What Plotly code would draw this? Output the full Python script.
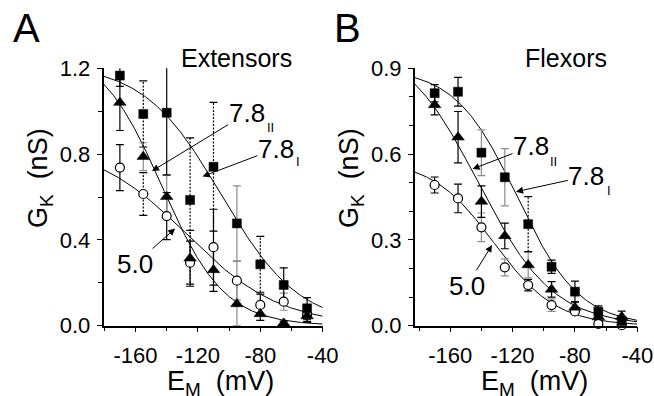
import numpy as np
import plotly.graph_objects as go

# Holding potentials (mV)
EM = [-170, -155, -140, -125, -110, -95, -80, -65, -50]

# Extensors: K+ conductance (nS) and SEM for the three groups
ext_78I = [1.166, 0.987, 0.993, 0.586, 0.741, 0.477, 0.286, 0.190, 0.081]
ext_78I_err = [0.05, 0.154, 0.29, 0.29, 0.30, 0.175, 0.13, 0.08, 0.05]
ext_78II = [1.040, 0.788, 0.601, 0.314, 0.260, 0.101, 0.055, 0.011, 0.045]
ext_78II_err = [0.13, 0.065, 0.10, 0.13, 0.10, 0.10, 0.03, 0.01, 0.03]
ext_50 = [0.737, 0.614, 0.511, 0.294, 0.366, 0.210, 0.097, 0.112, 0.050]
ext_50_err = [0.107, 0.10, 0.11, 0.10, 0.177, 0.09, 0.05, 0.04, 0.03]

# Flexors
flx_78I = [0.813, 0.818, 0.605, 0.519, 0.355, 0.206, 0.119, 0.049, 0.016]
flx_78I_err = [0.03, 0.05, 0.08, 0.10, 0.096, 0.023, 0.037, 0.02, 0.015]
flx_78II = [0.772, 0.659, 0.434, 0.314, 0.212, 0.127, 0.064, 0.030, 0.031]
flx_78II_err = [0.035, 0.09, 0.055, 0.045, 0.045, 0.027, 0.02, 0.015, 0.02]
flx_50 = [0.492, 0.445, 0.344, 0.204, 0.142, 0.072, 0.050, 0.006, 0.002]
flx_50_err = [0.028, 0.05, 0.05, 0.03, 0.02, 0.022, 0.01, 0.01, 0.01]

# Boltzmann fits: (Gmax, V1/2, slope k)
fit_ext_78I = (1.22, -105.0, 25.0)
fit_ext_78II = (1.30, -143.0, 20.0)
fit_ext_50 = (0.85, -127.0, 30.0)
fit_flx_78I = (0.90, -117.0, 20.0)
fit_flx_78II = (1.00, -142.0, 24.0)
fit_flx_50 = (0.58, -132.0, 20.0)

# Error-bar line style per point: k = black, g = gray, d = dotted black
sty_ext_78I = list("kdkddgdkk")
sty_ext_78II = list("kggdkgkkk")
sty_ext_50 = list("kdkkkgkgk")
sty_flx_78I = list("kkggdkkkk")
sty_flx_78II = list("kkkkgkkkk")
sty_flx_50 = list("kkggkgkkk")

# Tick labels
x_tickvals = [-160, -120, -80, -40]
x_ticktext = ["-160", "-120", "-80", "-40"]
yA_tickvals = [0.0, 0.4, 0.8, 1.2]
yA_ticktext = ["0.0", "0.4", "0.8", "1.2"]
yB_tickvals = [0.0, 0.3, 0.6, 0.9]
yB_ticktext = ["0.0", "0.3", "0.6", "0.9"]

W, H = 654, 396
FONT = "Liberation Sans, Arial, Helvetica, sans-serif"
GRAY = "#8c8c8c"

XR_A = [-180.5, -40]
XR_B = [-182.8, -40]
YR_A = [0, 1.2]
YR_B = [0, 0.9]
DOMX_A = [103.5 / W, 322.7 / W]
DOMX_B = [414.7 / W, 637.3 / W]
DOMY = [1 - 325.7 / H, 1 - 68.3 / H]


def boltzmann(v, gmax, vh, k):
    return gmax / (1.0 + np.exp((v - vh) / k))


def px(x):
    return x / W


def py(y):
    return 1 - y / H


fig = go.Figure()


def add_errorbars(x, y, e, styles, xa, ya, cap):
    for key, color, dash, w in (("g", GRAY, "solid", 1.2),
                                ("k", "black", "solid", 1.2),
                                ("d", "black", "2px,1.5px", 1.2)):
        bx, by, cx, cy = [], [], [], []
        for xi, yi, ei, s in zip(x, y, e, styles):
            if s != key:
                continue
            bx += [xi, xi, None]
            by += [yi - ei, yi + ei, None]
            for yc in (yi - ei, yi + ei):
                cx += [xi - cap, xi + cap, None]
                cy += [yc, yc, None]
        if not bx:
            continue
        fig.add_trace(go.Scatter(x=bx, y=by, mode="lines", xaxis=xa, yaxis=ya,
                                 line=dict(color=color, width=w, dash=dash),
                                 hoverinfo="skip", showlegend=False))
        fig.add_trace(go.Scatter(x=cx, y=cy, mode="lines", xaxis=xa, yaxis=ya,
                                 line=dict(color=color, width=1.2),
                                 hoverinfo="skip", showlegend=False))


panels = [
    dict(xa="x", ya="y", xr=XR_A, dom=DOMX_A,
         series=[(ext_50, ext_50_err, sty_ext_50, fit_ext_50, "circle"),
                 (ext_78II, ext_78II_err, sty_ext_78II, fit_ext_78II, "triangle"),
                 (ext_78I, ext_78I_err, sty_ext_78I, fit_ext_78I, "square")]),
    dict(xa="x2", ya="y2", xr=XR_B, dom=DOMX_B,
         series=[(flx_50, flx_50_err, sty_flx_50, fit_flx_50, "circle"),
                 (flx_78II, flx_78II_err, sty_flx_78II, fit_flx_78II, "triangle"),
                 (flx_78I, flx_78I_err, sty_flx_78I, fit_flx_78I, "square")]),
]

for p in panels:
    span_px = (p["dom"][1] - p["dom"][0]) * W
    cap = 4.0 * (p["xr"][1] - p["xr"][0]) / span_px
    vfit = np.linspace(p["xr"][0], p["xr"][1], 300)
    # fitted curves
    for vals, err, sty, fit, kind in p["series"]:
        fig.add_trace(go.Scatter(x=vfit, y=boltzmann(vfit, *fit), mode="lines",
                                 xaxis=p["xa"], yaxis=p["ya"],
                                 line=dict(color="black", width=1),
                                 hoverinfo="skip", showlegend=False))
    # error bars
    for vals, err, sty, fit, kind in p["series"]:
        add_errorbars(EM, vals, err, sty, p["xa"], p["ya"], cap)
    # markers
    for vals, err, sty, fit, kind in p["series"]:
        if kind == "circle":
            mk = dict(symbol="circle", size=9, color="white",
                      line=dict(color="black", width=1.2))
        elif kind == "triangle":
            mk = dict(symbol="triangle-up", size=11, color="black",
                      line=dict(color="black", width=0.5))
        else:
            mk = dict(symbol="square", size=9, color="black",
                      line=dict(color="black", width=0.5))
        fig.add_trace(go.Scatter(x=EM, y=vals, mode="markers",
                                 xaxis=p["xa"], yaxis=p["ya"], marker=mk,
                                 cliponaxis=False, showlegend=False))

tickfont = dict(family=FONT, size=22, color="black")
common_x = dict(showline=True, linecolor="black", linewidth=1.5, mirror=False,
                showgrid=False, zeroline=False, ticks="outside", ticklen=5,
                tickwidth=1.2, tickcolor="black", tickfont=tickfont,
                tickmode="array", tickvals=x_tickvals, ticktext=x_ticktext,
                ticklabelstandoff=4, automargin=False,
                minor=dict(tickmode="linear", tick0=-180, dtick=20,
                           ticks="outside", ticklen=4, tickwidth=1.2,
                           tickcolor="black", showgrid=False))
common_y = dict(showline=True, linecolor="black", linewidth=1.5, mirror=False,
                showgrid=False, zeroline=False, ticks="outside", ticklen=5,
                tickwidth=1.2, tickcolor="black", tickfont=tickfont,
                tickmode="array", ticklabelstandoff=2, automargin=False)

fig.update_layout(
    template="none",
    width=W, height=H, margin=dict(l=0, r=0, t=0, b=0, pad=0),
    paper_bgcolor="white", plot_bgcolor="white", showlegend=False,
    font=dict(family=FONT, color="black"),
    xaxis=dict(domain=DOMX_A, range=XR_A, anchor="y", **common_x),
    yaxis=dict(domain=DOMY, range=YR_A, anchor="x", tickvals=yA_tickvals,
               ticktext=yA_ticktext,
               minor=dict(tickmode="linear", tick0=0, dtick=0.2, ticks="outside",
                          ticklen=4, tickwidth=1.2, tickcolor="black",
                          showgrid=False),
               **common_y),
    xaxis2=dict(domain=DOMX_B, range=XR_B, anchor="y2", **common_x),
    yaxis2=dict(domain=DOMY, range=YR_B, anchor="x2", tickvals=yB_tickvals,
                ticktext=yB_ticktext,
                minor=dict(tickmode="linear", tick0=0, dtick=0.1, ticks="outside",
                           ticklen=4, tickwidth=1.2, tickcolor="black",
                           showgrid=False),
                **common_y),
)

ann = []


def text(x, y, s, size, angle=0):
    ann.append(dict(x=px(x), y=py(y), xref="paper", yref="paper", text=s,
                    showarrow=False, xanchor="center", yanchor="middle",
                    textangle=angle, font=dict(family=FONT, size=size, color="black")))


def pointer(s, xa, ya, x, y, dx, dy, size=26):
    # label placed (dx, dy) pixels from the point it points at
    ann.append(dict(x=x, y=y, xref=xa, yref=ya, ax=dx, ay=dy, text=s,
                    showarrow=True, arrowhead=2, arrowsize=1.4, arrowwidth=1,
                    arrowcolor="black", standoff=0, startstandoff=0,
                    borderpad=0,
                    font=dict(family=FONT, size=size, color="black")))


# panel letters and titles
text(26, 28, "A", 40)
text(347, 28, "B", 40)
text(236, 58.5, "Extensors", 25)
text(566, 58.5, "Flexors", 25)

# axis titles
for xc in (220, 534):
    text(xc, 383, "E<sub>M</sub>\u00a0\u00a0(mV)", 27)
for xc in (40, 351):
    text(xc, 178, "G<sub>K</sub>\u00a0\u00a0(nS)", 27, angle=-90)

# curve labels, panel A
pointer("7.8", "x", "y", -149.4, 0.721, 94.7, -57.7)
text(270, 127.4, "II", 13)
pointer("7.8", "x", "y", -117.0, 0.696, 73.3, -27.7)
text(298, 161.7, "I", 13)
pointer("5.0", "x", "y", -134.6, 0.453, -40, 35.5)

# curve labels, panel B
pointer("7.8", "x2", "y2", -145.7, 0.548, 58.5, -22.5)
text(553.5, 161, "II", 13)
pointer("7.8", "x2", "y2", -117.8, 0.4685, 70.3, -15.4)
text(609.3, 190, "I", 13)
pointer("5.0", "x2", "y2", -133.2, 0.282, -25.3, 40.8)

fig.update_layout(annotations=ann)

fig.write_html("out.html")
